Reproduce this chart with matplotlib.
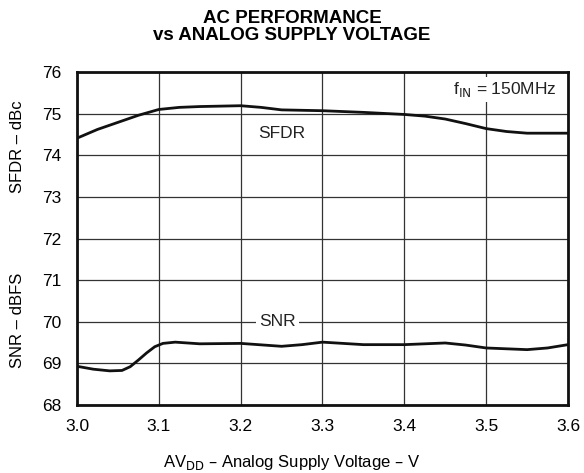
import matplotlib
matplotlib.use("Agg")
import matplotlib.pyplot as plt

plt.rcParams['font.family'] = ['Liberation Sans', 'DejaVu Sans']

voltage = [3.00, 3.025, 3.05, 3.075, 3.10, 3.125, 3.15, 3.20, 3.225, 3.25, 3.30, 3.35, 3.40, 3.425, 3.45, 3.475, 3.50, 3.525, 3.55, 3.575, 3.60]
sfdr = [74.41, 74.62, 74.79, 74.96, 75.10, 75.15, 75.17, 75.19, 75.15, 75.09, 75.07, 75.03, 74.98, 74.94, 74.87, 74.76, 74.64, 74.57, 74.53, 74.53, 74.53]
snr_v = [3.00, 3.02, 3.04, 3.055, 3.065, 3.075, 3.085, 3.095, 3.105, 3.12, 3.15, 3.20, 3.25, 3.275, 3.30, 3.35, 3.40, 3.45, 3.475, 3.50, 3.55, 3.575, 3.60]
snr = [68.93, 68.86, 68.82, 68.83, 68.92, 69.08, 69.25, 69.40, 69.48, 69.51, 69.47, 69.48, 69.41, 69.45, 69.51, 69.45, 69.45, 69.49, 69.44, 69.37, 69.33, 69.37, 69.45]

xticks = [3.0, 3.1, 3.2, 3.3, 3.4, 3.5, 3.6]
yticks = [68, 69, 70, 71, 72, 73, 74, 75, 76]

fig = plt.figure(figsize=(5.84, 4.73), dpi=100)
ax = fig.add_axes([77/584, 1-405/473, (568-77)/584, (405-72)/473])

ax.plot(voltage, sfdr, color='#111111', lw=2.0, zorder=3, solid_joinstyle='round')
ax.plot(snr_v, snr, color='#111111', lw=2.0, zorder=3, solid_joinstyle='round')

ax.set_xlim(3.0, 3.6)
ax.set_ylim(68, 76)
ax.set_xticks(xticks)
ax.set_xticklabels([f"{t:.1f}" for t in xticks])
ax.set_yticks(yticks)
ax.grid(True, color='#333333', lw=0.9)
ax.set_axisbelow(True)
ax.tick_params(length=0, labelsize=12.5)
ax.tick_params(axis='x', pad=10)
ax.tick_params(axis='y', pad=11)
for s in ax.spines.values():
    s.set_linewidth(2.0)
    s.set_color('#111111')

ax.text(3.25, 74.53, "SFDR", ha='center', va='center', fontsize=12.5, color='#222222')
ax.text(3.245, 70.0, "SNR", ha='center', va='center', fontsize=12.5, color='#222222',
        bbox=dict(facecolor='white', edgecolor='none', pad=2))
ax.text(3.587, 75.58, r"f$_{\rm IN}$ = 150MHz", ha='right', va='center', fontsize=12.5, color='#222222',
        bbox=dict(facecolor='white', edgecolor='none', pad=2))

fig.text(0.5, 1-10/473, "AC PERFORMANCE\nvs ANALOG SUPPLY VOLTAGE", ha='center', va='top',
         fontsize=13.5, fontweight='bold', linespacing=1.0)
fig.text(0.5, 1-462/473, r"AV$_{\rm DD}$ – Analog Supply Voltage – V", ha='center', va='center', fontsize=12)
fig.text(18/584, 1-147/473, "SFDR – dBc", rotation=90, ha='center', va='center', fontsize=12)
fig.text(18/584, 1-320/473, "SNR – dBFS", rotation=90, ha='center', va='center', fontsize=12)

fig.savefig("out.png", dpi=100)
